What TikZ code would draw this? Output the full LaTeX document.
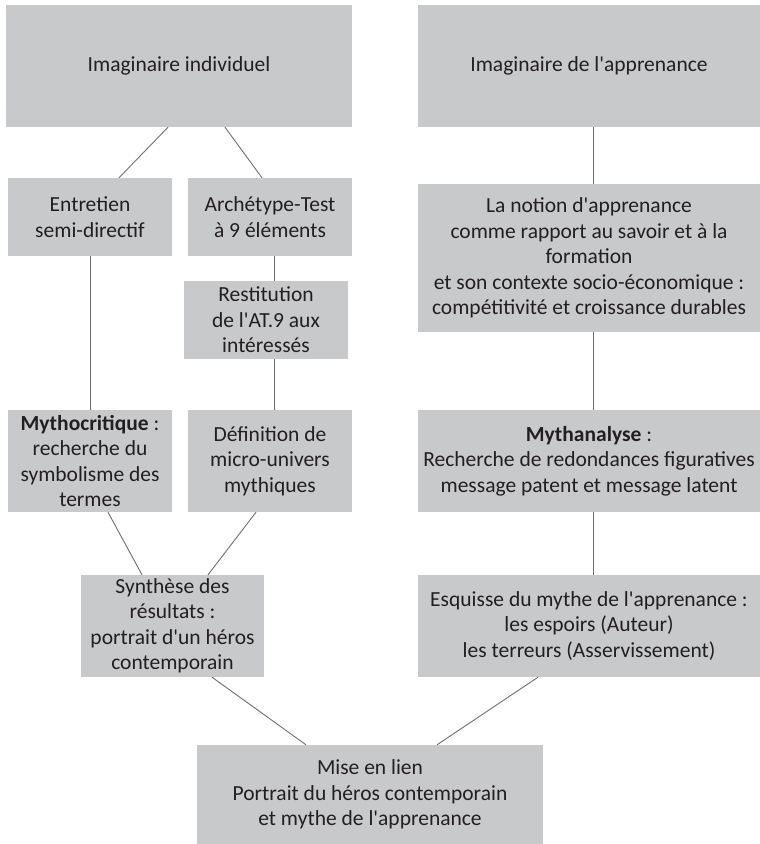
\documentclass[tikz,border=0pt]{standalone}
\usepackage{fontspec}
\setmainfont{Carlito}
\newcommand\apo{\textquotesingle}

\begin{document}
\begin{tikzpicture}[x=1pt, y=-1pt,
  box/.style={fill=boxgris, text=texte, align=center, inner sep=0pt,
    font=\fontsize{21.5}{25.5}\selectfont},
  lien/.style={draw=trait, line width=0.9pt}]
  \definecolor{boxgris}{RGB}{200,201,203}
  \definecolor{texte}{RGB}{35,31,32}
  \definecolor{trait}{RGB}{110,110,112}
  \useasboundingbox (0,0) rectangle (760,844);

  % Colonne de gauche : imaginaire individuel
  \node[box, minimum width=346pt, minimum height=122pt] (indiv) at (179,66) {\raisebox{-7pt}{Imaginaire individuel}};
  \node[box, minimum width=164pt, minimum height=78pt] (entretien) at (90,217) {Entretien\\semi-directif};
  \node[box, minimum width=164pt, minimum height=78pt] (archetype) at (270,217) {Archétype-Test\\à 9 éléments};
  \node[box, minimum width=164pt, minimum height=78pt] (restitution) at (266,320) {Restitution\\de l\apo AT.9 aux\\intéressés};
  \node[box, minimum width=164pt, minimum height=102pt] (mythocritique) at (90,461) {\textbf{Mythocritique} :\\recherche du\\symbolisme des\\termes};
  \node[box, minimum width=164pt, minimum height=102pt] (definition) at (270,461) {Définition de\\micro-univers\\mythiques};
  \node[box, minimum width=183pt, minimum height=102pt] (synthese) at (172.5,626) {Synthèse des\\résultats :\\portrait d\apo un héros\\contemporain};

  % Colonne de droite : imaginaire de l'apprenance
  \node[box, minimum width=342pt, minimum height=122pt] (apprenance) at (589,66) {Imaginaire de l\apo apprenance};
  \node[box, minimum width=342pt, minimum height=148pt] (notion) at (589,258) {La notion d\apo apprenance\\comme rapport au savoir et à la\\formation\\et son contexte socio-économique :\\compétitivité et croissance durables};
  \node[box, minimum width=342pt, minimum height=102pt] (mythanalyse) at (589,461) {\textbf{Mythanalyse} :\\Recherche de redondances figuratives\\message patent et message latent};
  \node[box, minimum width=342pt, minimum height=102pt] (esquisse) at (589,626) {Esquisse du mythe de l\apo apprenance :\\les espoirs (Auteur)\\les terreurs (Asservissement)};

  % Mise en lien
  \node[box, minimum width=346pt, minimum height=99pt] (mise) at (370,794.5) {Mise en lien\\Portrait du héros contemporain\\et mythe de l\apo apprenance};

  % Liens
  \draw[lien] ([xshift=-11pt]indiv.south) -- ([xshift=29pt]entretien.north);
  \draw[lien] ([xshift=46pt]indiv.south) -- ([xshift=-8pt]archetype.north);
  \draw[lien] (entretien.south) -- (mythocritique.north);
  \draw[lien] ([xshift=4pt]archetype.south) -- ([xshift=8pt]restitution.north);
  \draw[lien] ([xshift=8pt]restitution.south) -- ([xshift=4pt]definition.north);
  \draw[lien] ([xshift=18pt]mythocritique.south) -- ([xshift=-30.5pt]synthese.north);
  \draw[lien] ([xshift=-14pt]definition.south) -- ([xshift=35.5pt]synthese.north);
  \draw[lien] ([xshift=39.5pt]synthese.south) -- ([xshift=-64pt]mise.north);
  \draw[lien] ([xshift=4pt]apprenance.south) -- ([xshift=4pt]notion.north);
  \draw[lien] ([xshift=4pt]notion.south) -- ([xshift=4pt]mythanalyse.north);
  \draw[lien] ([xshift=4pt]mythanalyse.south) -- ([xshift=4pt]esquisse.north);
  \draw[lien] ([xshift=-51pt]esquisse.south) -- ([xshift=67pt]mise.north);
\end{tikzpicture}
\end{document}
